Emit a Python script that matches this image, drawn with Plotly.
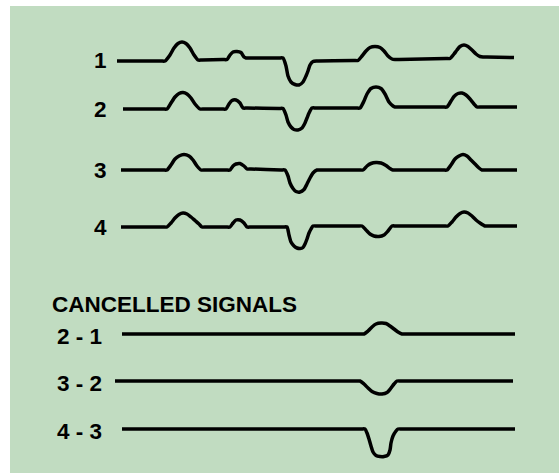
import plotly.graph_objects as go

# ---- data (x = time position, amp = signal amplitude, up positive) ----
labels = ["1", "2", "3", "4"]
baselines = [60, 109, 170, 227]

sig1_x = [117, 161, 165, 170, 174, 178, 182, 186, 190, 194, 198, 202,
          223, 227, 230, 233, 237, 241, 244, 246, 250,
          279, 283, 286, 288, 291, 295, 299, 303, 306, 308, 310, 313, 317,
          354, 358, 362, 366, 370, 375, 380, 384, 388, 392, 395, 399,
          446, 450, 454, 457, 460, 464, 468, 472, 476, 480, 483, 487, 514]
sig1_a = [-1, -1, -1, 5, 12, 16.5, 18, 16.5, 12, 5, 0, 0,
          0.5, 0.5, 5, 8, 8.5, 7.5, 3, 2, 2,
          2, 2, -6, -16, -22, -24.5, -25, -22, -16, -11, -5, -1.5, -1,
          -0.5, -0.5, 4, 9, 12.5, 13.5, 12.5, 9, 4, 1, 0.5, 0.5,
          1.5, 1.5, 6, 10, 13.5, 15, 13.5, 10, 6, 3.5, 3, 3, 2.5]

sig2_x = [123, 163, 167, 171, 175, 179, 183, 187, 191, 195, 200, 204,
          222, 226, 229, 232, 236, 240, 243, 247,
          279, 283, 286, 288, 291, 294, 298, 302, 305, 307, 309, 312, 316,
          356, 360, 364, 367, 371, 376, 381, 385, 389, 393, 395, 399,
          443, 447, 451, 454, 458, 462, 466, 470, 474, 477, 481, 517]
sig2_a = [0, 0, 0, 6, 12, 15.5, 16.5, 15, 11, 5, 0, 0,
          0, 0, 5, 8.5, 9, 6, 1, 1,
          0.5, 0.5, -6, -13, -18, -20.5, -21, -19, -14, -9, -4, 1, 1,
          1, 1, 8, 15, 20.5, 22, 20.5, 15, 7, 3, 2, 2,
          2, 2, 8, 12.5, 15.5, 16, 14, 10, 5, 2, 2, 2]

sig3_x = [121, 163, 167, 171, 175, 179, 184, 189, 193, 197, 201, 205,
          226, 230, 233, 236, 240, 244, 247, 251,
          281, 285, 288, 290, 293, 296, 300, 304, 307, 310, 313, 317, 321,
          359, 363, 367, 371, 376, 381, 386, 390, 393, 397,
          443, 447, 451, 455, 459, 463, 467, 471, 475, 479, 482, 486, 517]
sig3_a = [0, 0, 0, 5, 11, 14, 15.5, 14, 10, 4, 0, 0,
          0, 0, 4, 6, 6.5, 4, 1, 1,
          0, 0, -6, -13, -18.5, -21.5, -22, -19.5, -14, -8, -3, 0, 0,
          0, 0, 4, 6.5, 7.5, 7, 4.5, 1.5, 0, 0,
          0, 0, 5, 11, 14, 15.5, 14, 10, 6, 2, 0, 0, 0]

sig4_x = [121, 163, 167, 171, 175, 179, 183, 187, 191, 195, 199, 202, 206,
          226, 230, 233, 236, 240, 244, 247, 251,
          283, 287, 289, 291, 294, 297, 300, 303, 305, 307, 309, 311, 313, 317,
          358, 362, 366, 370, 374, 379, 384, 388, 392, 396,
          444, 448, 452, 456, 460, 464, 468, 472, 476, 480, 485, 489, 517]
sig4_a = [0, 0, 0, 4, 9, 12.5, 14, 13, 10, 6.5, 3, 0, 0,
          0, 0, 4, 7, 7, 4, 0, 0,
          0, 0, -8, -15, -19, -21, -21.5, -20.5, -17, -12, -6, -2, 1, 1,
          1, 1, -3, -7, -9, -9.5, -8, -4, 1, 1,
          1, 1, 5, 10, 13.5, 15, 14, 11, 7, 4, 1, 1, 1]

cancel_title = "CANCELLED SIGNALS"
cancel_labels = ["2 - 1", "3 - 2", "4 - 3"]
cancel_baselines = [334, 381, 429]

c21_x = [122, 360, 364, 368, 372, 376, 381, 386, 390, 394, 398, 402, 406, 515]
c21_a = [0, 0, 0, 3, 7, 10, 11, 10.5, 8, 5, 2, 0, 0, 0]

c32_x = [115, 356, 360, 364, 368, 372, 377, 382, 387, 391, 394, 397, 401, 513]
c32_a = [0, 0, 0, -3, -7, -10.5, -12.5, -13, -11.5, -7, -3, 0, 0, 0]

c43_x = [122, 361, 365, 367, 369, 371, 373, 376, 380, 384, 388, 390, 391, 393, 396, 398, 402, 515]
c43_a = [0, 0, 0, -4, -10, -17, -23, -26.5, -27.5, -27.5, -26, -21, -14, -7, -2, 0, 0, 0]

signals_x = [sig1_x, sig2_x, sig3_x, sig4_x]
signals_a = [sig1_a, sig2_a, sig3_a, sig4_a]
cancel_x = [c21_x, c32_x, c43_x]
cancel_a = [c21_a, c32_a, c43_a]

# ---- figure ----
BG = "#c1dcc1"
FONT = dict(family="Liberation Sans, Arial, sans-serif", size=22.5, color="black", weight="bold")

fig = go.Figure()

for xs, amps, base in zip(signals_x + cancel_x, signals_a + cancel_a, baselines + cancel_baselines):
    fig.add_trace(go.Scatter(
        x=xs, y=[base - a for a in amps], mode="lines",
        line=dict(color="black", width=3.5, shape="spline", smoothing=0.6),
        hoverinfo="skip", showlegend=False))

for lab, base in zip(labels, baselines):
    fig.add_annotation(x=100, y=base, text=lab, showarrow=False, xanchor="center", yanchor="middle",
                       font=FONT)

fig.add_annotation(x=50, y=304, text=cancel_title, showarrow=False, xanchor="left", yanchor="middle",
                   font=FONT)
for lab, base in zip(cancel_labels, cancel_baselines):
    fig.add_annotation(x=55, y=base + 2, text=lab, showarrow=False, xanchor="left", yanchor="middle",
                       font=FONT)

fig.update_xaxes(range=[10, 559], visible=False, showgrid=False, zeroline=False, fixedrange=True)
fig.update_yaxes(range=[473, 6], visible=False, showgrid=False, zeroline=False, fixedrange=True)

fig.update_layout(
    width=559, height=473,
    margin=dict(l=10, r=0, t=6, b=0, pad=0),
    paper_bgcolor="white", plot_bgcolor=BG,
    showlegend=False,
)

fig.write_html("out.html", config={"displayModeBar": False},
               post_script="document.body.style.margin='0';document.body.style.overflow='hidden';")
